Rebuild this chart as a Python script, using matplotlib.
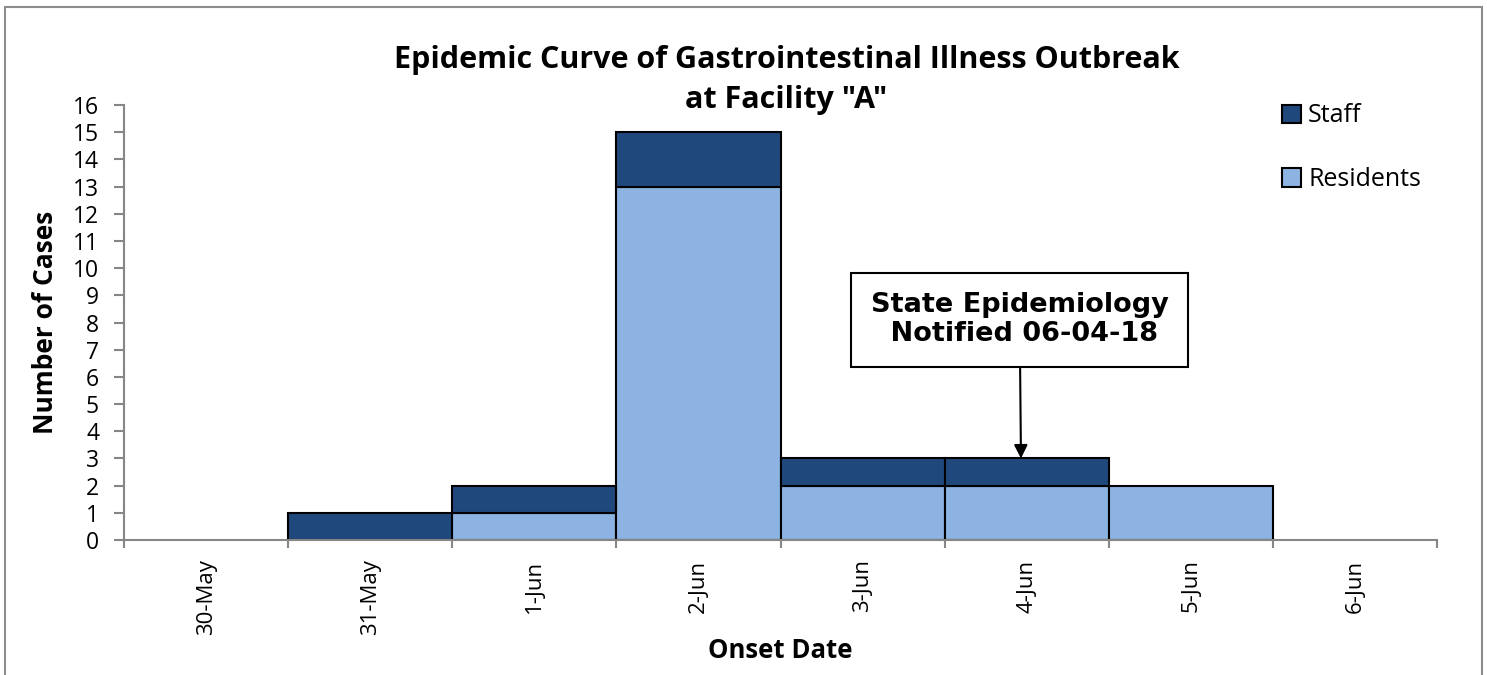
import matplotlib.pyplot as plt
from matplotlib.patches import Rectangle

plt.rcParams['font.family'] = ['Open Sans', 'DejaVu Sans']

dates = ['30-May', '31-May', '1-Jun', '2-Jun', '3-Jun', '4-Jun', '5-Jun', '6-Jun']
residents = [0, 0, 1, 13, 2, 2, 2, 0]
staff = [0, 1, 1, 2, 1, 1, 0, 0]

res_color = '#8DB3E2'
staff_color = '#1F497D'
axis_gray = '#868686'

fig = plt.figure(figsize=(14.87, 6.75), dpi=100)
ax = fig.add_axes([0.0834, 0.2, 0.883, 0.6444])

x = list(range(len(dates)))
ax.bar(x, residents, width=1.0, color=res_color,
       edgecolor=['black' if v > 0 else 'none' for v in residents], linewidth=1.5)
ax.bar(x, staff, width=1.0, bottom=residents, color=staff_color,
       edgecolor=['black' if v > 0 else 'none' for v in staff], linewidth=1.5)

ax.set_xlim(-0.5, len(dates) - 0.5)
ax.set_ylim(0, 16)
ax.set_yticks(range(0, 17))
ax.set_xticks(x)
ax.set_xticklabels(dates, rotation=90, fontsize=16)
ax.set_xticks([i - 0.5 for i in range(len(dates) + 1)], minor=True)
ax.tick_params(axis='x', which='major', length=0, pad=14)
ax.tick_params(axis='x', which='minor', length=6, width=1.5, color=axis_gray)
ax.tick_params(axis='y', length=7, width=1.5, color=axis_gray, labelsize=16.5, pad=11)

for s in ['top', 'right']:
    ax.spines[s].set_visible(False)
for s in ['left', 'bottom']:
    ax.spines[s].set_color(axis_gray)
    ax.spines[s].set_linewidth(1.5)

ax.set_xlabel('Onset Date', fontsize=18.5, fontweight='bold', va='center')
ax.xaxis.set_label_coords(0.5, -0.254)
ax.set_ylabel('Number of Cases', fontsize=19, fontweight='bold', va='center')
ax.yaxis.set_label_coords(-0.060, 0.5)

fig.text(0.529, 0.881, 'Epidemic Curve of Gastrointestinal Illness Outbreak\nat Facility "A"',
         ha='center', va='center', fontsize=22, fontweight='bold', linespacing=1.42)

ax.annotate('State Epidemiology\n Notified 06-04-18', xy=(4.965, 3), xytext=(4.957, 8.1),
            ha='center', va='center', fontsize=19.5, fontweight='bold',
            family=['DejaVu Sans'], linespacing=1.15,
            bbox=dict(boxstyle='square,pad=0.72', fc='white', ec='black', lw=1.5),
            arrowprops=dict(arrowstyle='-|>', color='black', lw=1.5, mutation_scale=20,
                            shrinkA=0, shrinkB=0))

h_staff = Rectangle((0, 0), 1, 1, fc=staff_color, ec='black', lw=1.5)
h_res = Rectangle((0, 0), 1, 1, fc=res_color, ec='black', lw=1.5)
fig.legend([h_staff, h_res], ['Staff', 'Residents'], loc='upper left',
           bbox_to_anchor=(0.847, 0.88), frameon=False, fontsize=18,
           handlelength=0.75, handleheight=0.75, handletextpad=0.3, labelspacing=1.55)

fig.patches.append(Rectangle((0.0034, -0.05), 0.9933, 1.04, transform=fig.transFigure,
                             fill=False, ec='#8C8C8C', lw=1.5))

fig.savefig('out.png', dpi=100)
